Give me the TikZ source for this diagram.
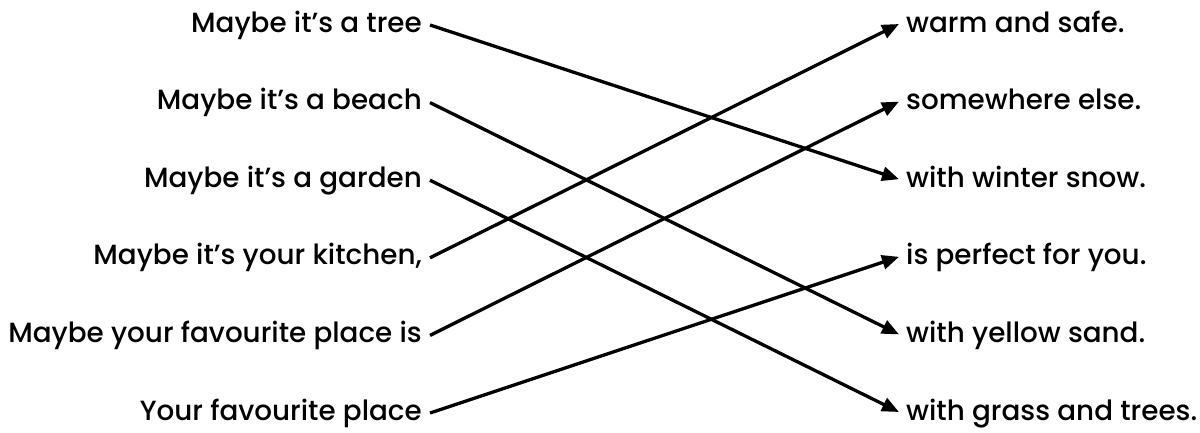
\documentclass[tikz,border=0pt]{standalone}
\usepackage{fontspec}
\setmainfont{Poppins}[UprightFont=* Medium]
\usetikzlibrary{arrows.meta}
\begin{document}
\begin{tikzpicture}[x=1pt,y=-1pt,
  lt/.style={anchor=base east,inner sep=0pt,font=\fontsize{27.8}{30}\selectfont},
  rt/.style={anchor=base west,inner sep=0pt,font=\fontsize{27.8}{30}\selectfont},
  link/.style={line width=3.3pt,-{Triangle[length=17pt,width=14pt]}}]
\useasboundingbox (0,0) rectangle (1200,432);
\foreach \i/\t in {1/Maybe it’s a tree,2/Maybe it’s a beach,3/Maybe it’s a garden,4/Maybe it’s your kitchen{,},5/Maybe your favourite place is,6/Your favourite place}{
  \pgfmathsetmacro\b{32+77.6*(\i-1)}
  \node[lt] (L\i) at (422,\b) {\t};
  \coordinate (s\i) at (430,\b-7);
}
\foreach \i/\t in {1/warm and safe.,2/somewhere else.,3/with winter snow.,4/is perfect for you.,5/with yellow sand.,6/with grass and trees.}{
  \pgfmathsetmacro\b{32+77.6*(\i-1)}
  \node[rt] (R\i) at (906,\b) {\t};
  \coordinate (e\i) at (899,\b-8);
}
\draw[link] (s1) -- (e3);
\draw[link] (s2) -- (e5);
\draw[link] (s3) -- (e6);
\draw[link] (s4) -- (e1);
\draw[link] (s5) -- (e2);
\draw[link] (s6) -- (e4);
\end{tikzpicture}
\end{document}
